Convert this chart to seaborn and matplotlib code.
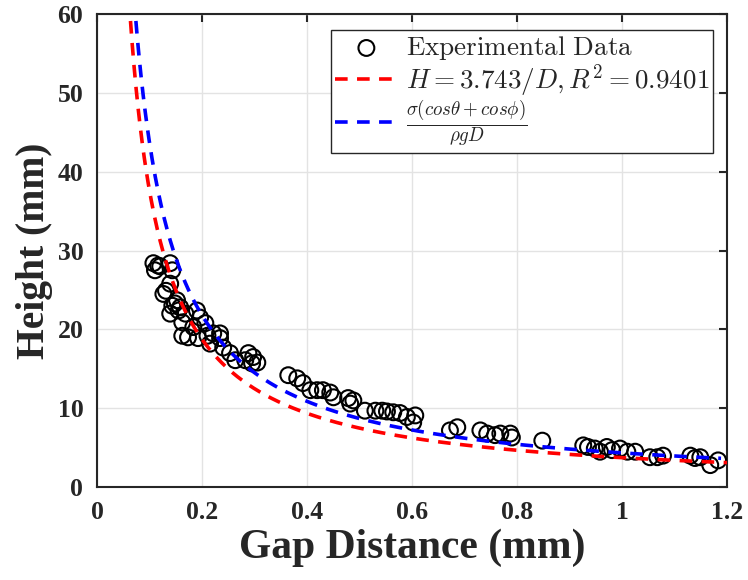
import numpy as np
import pandas as pd
import matplotlib
matplotlib.use("Agg")
import matplotlib.pyplot as plt
import seaborn as sns

# ---- data ----
gap_mm = [0.107, 0.116, 0.110, 0.139, 0.143, 0.139, 0.126, 0.152, 0.143, 0.158,
          0.139, 0.168, 0.162, 0.190, 0.196, 0.183, 0.206, 0.162, 0.173, 0.192,
          0.210, 0.221, 0.234, 0.215, 0.234, 0.240, 0.253, 0.263, 0.288, 0.297,
          0.295, 0.305, 0.282, 0.364, 0.381, 0.392, 0.406, 0.419, 0.430, 0.444,
          0.450, 0.478, 0.482, 0.488, 0.510, 0.530, 0.543, 0.552, 0.564, 0.577,
          0.590, 0.606, 0.602, 0.672, 0.686, 0.730, 0.743, 0.758, 0.768, 0.787,
          0.790, 0.848, 0.926, 0.935, 0.948, 0.958, 0.971, 0.981, 0.996, 1.010,
          1.025, 1.053, 1.067, 1.078, 1.130, 1.139, 1.149, 1.168, 1.183, 0.120,
          0.148, 0.131, 0.155]
height_mm = [28.4, 28.1, 27.5, 28.4, 27.5, 25.8, 24.5, 23.7, 23.0, 22.8,
             22.0, 22.0, 20.9, 22.4, 21.5, 20.3, 20.8, 19.2, 19.0, 18.9,
             19.2, 19.5, 18.9, 18.2, 19.5, 17.7, 17.0, 16.1, 17.0, 16.5,
             15.7, 15.8, 16.1, 14.2, 13.8, 13.2, 12.3, 12.3, 12.3, 12.0,
             11.4, 11.3, 10.6, 11.0, 9.7, 9.7, 9.7, 9.6, 9.5, 9.4,
             8.9, 9.1, 8.2, 7.2, 7.6, 7.2, 6.8, 6.6, 6.8, 6.8,
             6.3, 5.9, 5.3, 5.1, 4.9, 4.5, 5.1, 4.7, 4.9, 4.5,
             4.5, 3.8, 3.8, 4.0, 4.0, 3.7, 3.8, 2.8, 3.4, 28.0,
             23.3, 24.9, 22.4]

fit_coeff = 3.743      # H = 3.743 / D
theory_coeff = 4.35    # sigma (cos theta + cos phi) / (rho g)

x_ticks = [0, 0.2, 0.4, 0.6, 0.8, 1.0, 1.2]
x_ticklabels = ["0", "0.2", "0.4", "0.6", "0.8", "1", "1.2"]
y_ticks = [0, 10, 20, 30, 40, 50, 60]

sns.set_style("whitegrid")
plt.rcParams["font.family"] = ["Liberation Serif", "DejaVu Serif"]
plt.rcParams["mathtext.fontset"] = "cm"

fig = plt.figure(figsize=(7.48, 5.80), dpi=100)
ax = fig.add_axes([0.130, 0.160, 0.842, 0.816])

df = pd.DataFrame({"D": gap_mm, "H": height_mm})
D_curve = np.linspace(0.055, 1.2, 600)
curves = pd.DataFrame({"D": D_curve,
                       "fit": fit_coeff / D_curve,
                       "theory": theory_coeff / D_curve})

sns.scatterplot(data=df, x="D", y="H", ax=ax, marker="o", s=130,
                facecolor="none", edgecolor="black", linewidth=1.5,
                label=r"$\mathrm{Experimental\ Data}$", zorder=3)
sns.lineplot(data=curves, x="D", y="fit", ax=ax, color=(1, 0, 0), lw=2.6,
             linestyle=(0, (3.5, 2.6)),
             label=r"$H=3.743/D, R^2=0.9401$", zorder=4)
sns.lineplot(data=curves[curves.D <= 1.19], x="D", y="theory", ax=ax,
             color=(0, 0, 1), lw=2.6, linestyle=(0, (3.5, 2.6)),
             label=r"$\frac{\sigma(cos\theta+cos\phi)}{\rho g D}$", zorder=4)

ax.set_xlim(0, 1.2)
ax.set_ylim(0, 60)
ax.set_xticks(x_ticks)
ax.set_xticklabels(x_ticklabels)
ax.set_yticks(y_ticks)
ax.grid(True, color="#e3e3e3", linewidth=1.0)
ax.set_axisbelow(True)
for sp in ax.spines.values():
    sp.set_color("#262626")
    sp.set_linewidth(1.5)
    sp.set_visible(True)
ax.tick_params(direction="in", length=6, width=1.5, colors="#262626",
               top=True, right=True, labelsize=18.5, pad=10)
for lab in ax.get_xticklabels() + ax.get_yticklabels():
    lab.set_fontweight("bold")
    lab.set_color("#262626")

ax.set_xlabel("Gap Distance (mm)", fontsize=30, fontweight="bold", labelpad=3)
ax.set_ylabel("Height (mm)", fontsize=28.5, fontweight="bold", labelpad=3)

leg = ax.legend(loc="upper right", bbox_to_anchor=(0.978, 0.966),
                fontsize=19.5, frameon=True, fancybox=False, edgecolor="#262626",
                handlelength=2.3, handletextpad=0.3, borderpad=0.15,
                labelspacing=0.0, borderaxespad=0)
leg.get_frame().set_linewidth(1.0)
leg.get_frame().set_alpha(1)

fig.savefig("out.png", dpi=100)
